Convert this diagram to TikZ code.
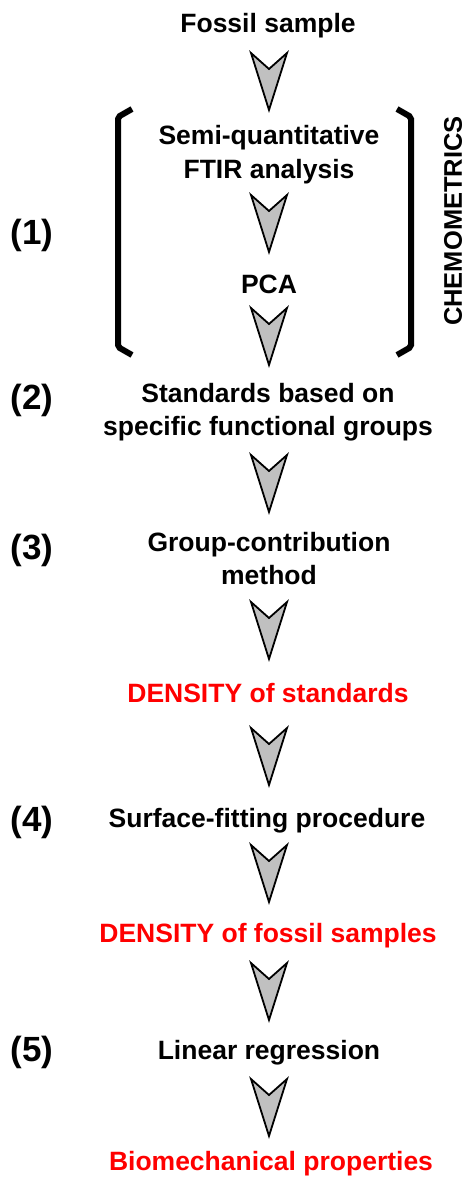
\documentclass[tikz,border=0pt]{standalone}
\usepackage{fontspec}
\setmainfont{Liberation Sans}
\definecolor{chevgray}{HTML}{C0C0C0}
\definecolor{densred}{HTML}{FF0000}
\tikzset{
  lbl/.style={font=\fontsize{26.5}{33}\selectfont\bfseries, inner sep=0pt, align=center, anchor=base},
  redlbl/.style={lbl, text=densred},
  num/.style={font=\fontsize{35}{40}\selectfont\bfseries, inner sep=0pt, anchor=base},
  chevron/.style={fill=chevgray, draw=black, line width=1.8pt, line join=miter},
  bracket/.style={line width=6pt, rounded corners=2pt},
  chev/.pic={\draw[chevron] (-18,0) -- (0,16) -- (18,0) -- (0,57) -- cycle;}
}
\begin{document}
\begin{tikzpicture}[x=1pt,y=-1pt]
\useasboundingbox (0,0) rectangle (467,1180);
% texts (base anchor of a multi-line node = baseline of its last line)
\node[lbl] (fossil) at (268,33) {Fossil sample};
\node[lbl] (ftir) at (269,178) {Semi-quantitative\\FTIR analysis};
\node[lbl] (pca) at (269,293) {PCA};
\node[lbl] (std) at (268,435) {Standards based on\\specific functional groups};
\node[lbl] (gcm) at (269,584) {Group-contribution\\method};
\node[redlbl] (dstd) at (268,702) {DENSITY of standards};
\node[lbl] (sfp) at (267,827) {Surface-fitting procedure};
\node[redlbl] (dfos) at (268,942) {DENSITY of fossil samples};
\node[lbl] (lin) at (269,1059) {Linear regression};
\node[redlbl] (bio) at (271,1170) {Biomechanical properties};
% step numbers
\node[num] (n1) at (32,244) {(1)};
\node[num] (n2) at (32,409) {(2)};
\node[num] (n3) at (32,559) {(3)};
\node[num] (n4) at (32,831) {(4)};
\node[num] (n5) at (32,1061) {(5)};
% chevron arrows
\pic at (269,53) {chev};
\pic at (269,195) {chev};
\pic at (269,308) {chev};
\pic at (269,455) {chev};
\pic at (269,602) {chev};
\pic at (269,728) {chev};
\pic at (269,845) {chev};
\pic at (269,963) {chev};
\pic at (269,1079) {chev};
% brackets
\draw[bracket] (132,109) -- (118,117) -- (118,347) -- (132,355);
\draw[bracket] (397,109) -- (411,117) -- (411,347) -- (397,355);
\node[lbl, anchor=center, rotate=90, font=\fontsize{25.5}{30}\selectfont\bfseries] (chemo) at (453,221) {CHEMOMETRICS};
\end{tikzpicture}
\end{document}
